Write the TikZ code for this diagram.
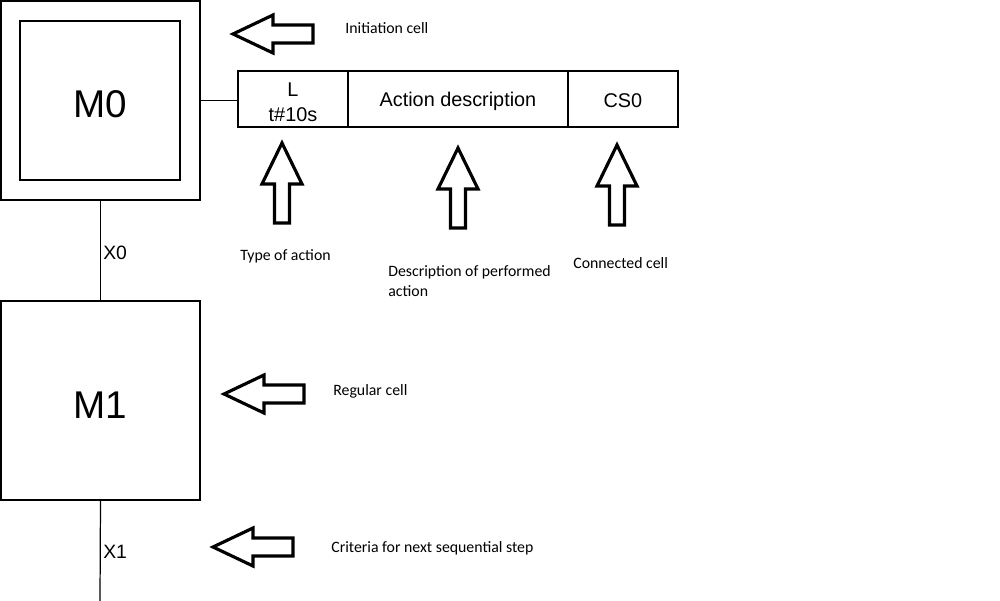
\documentclass[tikz,border=0pt]{standalone}
\usepackage{fontspec}
\setmainfont{Carlito}
\newfontfamily\arial{Liberation Sans}
\begin{document}
\begin{tikzpicture}[x=0.02cm,y=-0.02cm,
  cellbox/.style={draw,line width=0.7pt,inner sep=0pt,outer sep=0pt,font=\arial\fontsize{22}{26}\selectfont},
  actbox/.style={draw,line width=0.7pt,inner sep=0pt,outer sep=0pt,minimum height=1.12cm,align=center,font=\arial\fontsize{11.3}{14}\selectfont},
  lbl/.style={font=\arial\fontsize{11}{13}\selectfont,anchor=west,inner sep=0pt},
  note/.style={font=\fontsize{9}{11.3}\selectfont,anchor=west,inner sep=0pt,align=left},
  conn/.style={line width=0.7pt},
  arrowline/.style={draw,line width=1.8pt,line join=miter,fill=white},
  fatleft/.pic={\path[arrowline] (0,0) -- (40,-19) -- (40,-9) -- (80,-9) -- (80,9) -- (40,9) -- (40,19) -- cycle;},
  fatup/.pic={\path[arrowline] (0,0) -- (20,41) -- (7.5,41) -- (7.5,80) -- (-7.5,80) -- (-7.5,41) -- (-20,41) -- cycle;}
]
\useasboundingbox (0,0) rectangle (1000,601);
% cells
\node[cellbox,minimum width=3.98cm,minimum height=3.98cm] (m0) at (100.5,100.5) {};
\node[cellbox,minimum width=3.2cm,minimum height=3.18cm,text height=18.8pt,text depth=0pt] (m0in) at (100,100.5) {M0};
\node[cellbox,minimum width=3.98cm,minimum height=3.98cm,text height=20pt,text depth=0pt] (m1) at (100.5,400.5) {M1};
% action boxes
\node[actbox,minimum width=2.2cm] (act) at (293,99) {\raisebox{1.35pt}[0pt][0pt]{\begin{tabular}[t]{@{}c@{}}L\\t\#10s\end{tabular}}};
\node[actbox,minimum width=4.4cm,anchor=west] (desc) at (act.east) {\raisebox{-4.35pt}[0pt][0pt]{Action description}};
\node[actbox,minimum width=2.2cm,anchor=west] (cs) at (desc.east) {\raisebox{-5.05pt}[0pt][0pt]{CS0}};
% connectors
\coordinate (end) at (100,601);
\draw[conn] (m0.east) -- (m0.east -| act.west);
\draw[conn] (m0.south) -- (m1.north);
\draw[conn] (m1.south) -- (end);
\node[lbl] (x0) at (103,253) {X0};
\node[lbl] (x1) at (103,552) {X1};
% hollow arrows
\pic at (233,34) {fatleft};
\pic at (224,394) {fatleft};
\pic at (213,547) {fatleft};
\pic at (282,143) {fatup};
\pic at (458,148) {fatup};
\pic at (617,145) {fatup};
% notes
\node[note] (n1) at (345,28) {Initiation cell};
\node[note] (n2) at (333,391) {Regular cell};
\node[note] (n3) at (331,548) {Criteria for next sequential step};
\node[note] (n4) at (240,256) {Type of action};
\node[note,anchor=north west] (n5) at (388,265) {Description of performed\\action};
\node[note] (n6) at (573,263) {Connected cell};
\end{tikzpicture}
\end{document}
